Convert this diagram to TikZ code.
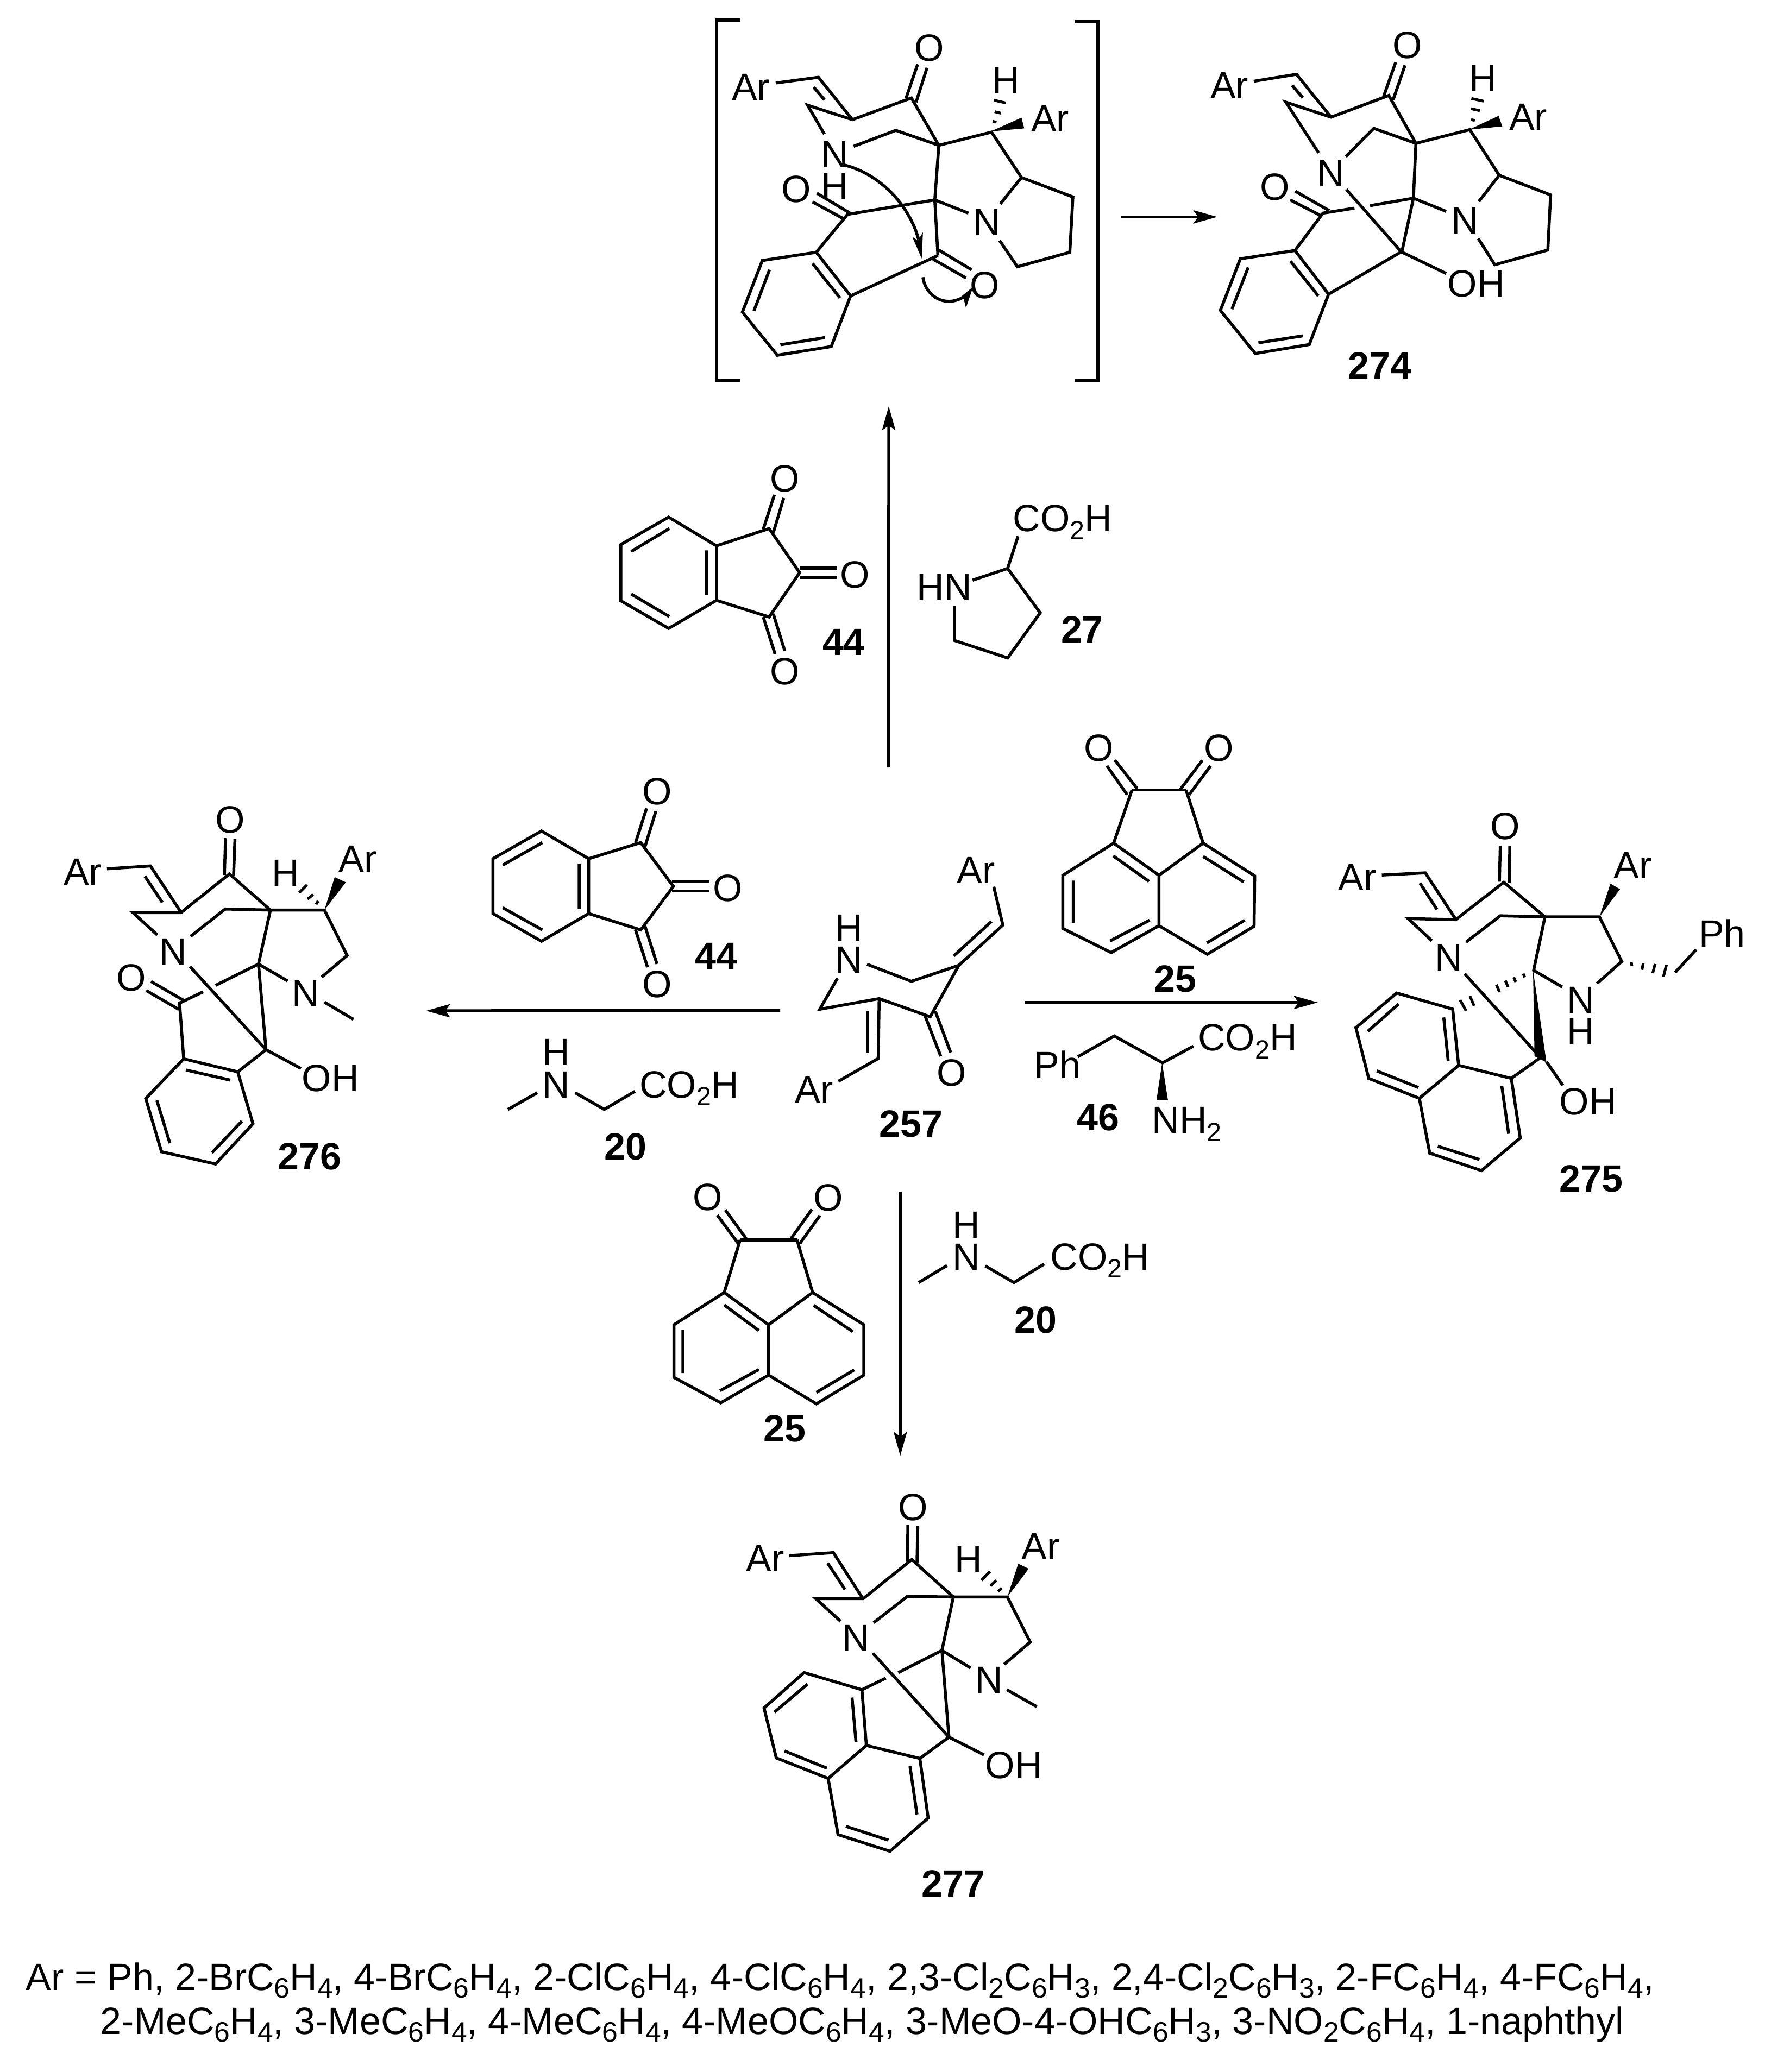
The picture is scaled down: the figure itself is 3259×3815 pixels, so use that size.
\documentclass[tikz,border=0pt]{standalone}
\usepackage{fontspec}
\setmainfont{Liberation Sans}
\usetikzlibrary{arrows.meta}
\newcommand{\sbs}[1]{\raisebox{-3.4pt}{\fontsize{11.6}{14}\selectfont #1}}
\newcommand{\fsb}[1]{\raisebox{-3.4pt}{\fontsize{12.4}{14}\selectfont #1}}
\tikzset{
  lab/.style={inner sep=0pt,anchor=base,font=\fontsize{16.8}{20}\selectfont},
  labw/.style={lab,anchor=base west},
  num/.style={lab,font=\fontsize{16.8}{20}\selectfont\bfseries},
  bd/.style={line width=1.32pt,line join=miter,draw=black},
  hs/.style={line width=1.2pt,draw=black},
  rxn/.style={line width=1.32pt,draw=black,-{Stealth[length=10.5pt,width=5.8pt,inset=2pt]}},
  brk/.style={line width=1.4pt,draw=black,line join=miter}
}
\begin{document}
\begin{tikzpicture}[x=0.24pt,y=-0.24pt]
\useasboundingbox (0,0) rectangle (3259,3815);
\fill[white] (0,0) rectangle (3259,3815);

% ---------- intermediate in brackets
\begin{scope}[shift={(1250,0)},xscale=0.574,yscale=0.459]
\draw[brk] (195,80)--(120,80)--(120,1525)--(195,1525);
\draw[brk] (1270,85)--(1343,85)--(1343,1525)--(1270,1525);
\node[lab] (iO1) at (803,245) {O};
\node[lab] (iAr1) at (230,403) {Ar};
\node[lab] (iH1) at (1048,375) {H};
\node[lab] (iAr2) at (1190,528) {Ar};
\node[lab] (iN1) at (500,672) {N};
\node[lab] (iH2) at (500,800) {H};
\node[lab] (iO2) at (375,812) {O};
\node[lab] (iN2) at (987,945) {N};
\node[lab] (iO3) at (980,1198) {O};
\draw[bd] (310,333)--(447,310)--(556,480);
\draw[bd] (432,350)--(466,400);
\draw[bd] (466,538)--(412,422)--(556,480)--(745,393)--(833,583);
\draw[bd] (728,393)--(765,258) (760,410)--(795,272);
\draw[bd] (560,587)--(695,523)--(833,583)--(1002,530)--(1098,712)--(1263,790)--(1253,1012)--(1085,1070)--(1028,965);
\draw[bd] (1098,712)--(1030,818);
\fill (1000,527)--(1098,472)--(1107,515)--cycle;
\draw[hs] (1006,487)--(1018,490) (1012,448)--(1032,454) (1010,402)--(1048,413);
\draw[bd] (833,583)--(820,802)--(928,855);
\draw[bd] (820,802)--(830,1025);
\draw[bd] (820,802)--(540,860)--(440,1012);
\draw[bd] (527,877)--(428,810) (548,855)--(442,775);
\draw[bd] (440,1012)--(267,1045)--(203,1252)--(315,1425)--(488,1390)--(550,1187)--cycle;
\draw[bd] (290,1082)--(240,1247) (325,1383)--(468,1354) (428,1057)--(516,1195);
\draw[bd] (550,1187)--(830,1025);
\draw[bd] (815,1040)--(920,1115) (833,1003)--(938,1082);
\draw[bd] (530,662) .. controls (650,700) and (740,830) .. (768,960);
\fill (778,1037)--(748,950)--(766,965)--(782,932)--cycle;
\draw[bd] (782,1112) .. controls (790,1190) and (860,1245) .. (925,1180);
\fill (943,1150)--(890,1205)--(912,1195)--(920,1235)--cycle;
\coordinate (arrAs) at (1418,870);
\end{scope}

% ---------- 274
\begin{scope}[shift={(2150,0)},xscale=0.574,yscale=0.459]
\coordinate (arrAe) at (158,870);
\node[lab] (aO1) at (767,235) {O};
\node[lab] (aAr1) at (197,395) {Ar};
\node[lab] (aH1) at (1010,367) {H};
\node[lab] (aAr2) at (1155,522) {Ar};
\node[lab] (aN1) at (522,748) {N};
\node[lab] (aO2) at (343,802) {O};
\node[lab] (aN2) at (952,937) {N};
\node[lab] (aOH) at (988,1190) {OH};
\node[num] (a274) at (680,1520) {274};
\draw[bd] (275,326)--(412,298)--(523,470);
\draw[bd] (398,342)--(432,392);
\draw[bd] (483,613)--(378,410)--(523,470)--(708,383)--(795,575);
\draw[bd] (692,385)--(730,250) (722,400)--(760,262);
\draw[bd] (570,628)--(660,515)--(795,575)--(968,520)--(1062,703)--(1227,782)--(1218,1003)--(1048,1062)--(995,957);
\draw[bd] (1062,703)--(997,808);
\fill (965,520)--(1060,465)--(1072,507)--cycle;
\draw[hs] (972,480)--(984,483) (972,436)--(1000,444) (973,395)--(1012,406);
\draw[bd] (795,575)--(787,795)--(892,848);
\draw[bd] (787,795)--(750,1010);
\draw[bd] (787,795)--(648,825) (598,835)--(497,855)--(407,1005);
\draw[bd] (490,865)--(392,802) (517,845)--(408,767);
\draw[bd] (572,760)--(748,1010)--(892,1097);
\draw[bd] (748,1010)--(515,1180);
\draw[bd] (407,1005)--(232,1038)--(168,1245)--(280,1418)--(453,1382)--(515,1180)--cycle;
\draw[bd] (257,1073)--(205,1240) (290,1375)--(433,1347) (393,1048)--(482,1187);
\end{scope}
\draw[rxn] (arrAs)--(arrAe);

% ---------- 44 + 27 (top)
\begin{scope}[shift={(1100,820)},xscale=0.638,yscale=0.383]
\coordinate (arrBs) at (840,1548);
\node[lab] (bO1) at (540,222) {O};
\node[lab] (bO2) at (742,685) {O};
\node[lab] (bO3) at (540,1150) {O};
\node[num] (b44) at (710,1010) {44};
\node[labw] (bCO) at (1197,415) {CO\sbs{2}H};
\node[labw] (bHN) at (920,745) {HN};
\node[num] (b27) at (1398,950) {27};
\draw[bd] (205,345)--(67,477)--(67,747)--(205,880)--(343,745)--(343,483)--cycle;
\draw[bd] (207,400)--(97,510) (97,715)--(207,823) (315,505)--(315,720);
\draw[bd] (343,483)--(495,400)--(583,612)--(495,825)--(343,745);
\draw[bd] (478,403)--(510,238) (507,420)--(537,253);
\draw[bd] (478,825)--(512,1003) (507,810)--(540,988);
\draw[bd] (583,590)--(690,590) (583,636)--(690,636);
\draw[bd] (1082,648)--(1183,592)--(1213,437);
\draw[bd] (1183,592)--(1277,805)--(1183,1022)--(1030,938)--(1030,772);
\end{scope}
\coordinate (arrBe) at (1636,748);
\draw[rxn] (arrBs)--(arrBe);

% ---------- 44 + 20 (left)
\begin{scope}[shift={(850,1400)},xscale=0.383,yscale=0.510]
\coordinate (arrCs) at (1530,903);
\node[lab] (cO1) at (940,160) {O};
\node[lab] (cO2) at (1278,508) {O};
\node[lab] (cO3) at (940,855) {O};
\node[num] (c44) at (1222,753) {44};
\node[lab] (cH) at (453,1100) {H};
\node[lab] (cN) at (453,1218) {N};
\node[labw] (cCO) at (852,1218) {CO\sbs{2}H};
\node[num] (c20) at (788,1442) {20};
\draw[bd] (150,355)--(383,255)--(610,355)--(610,553)--(383,653)--(150,553)--cycle;
\draw[bd] (197,378)--(387,297) (197,532)--(387,612) (564,373)--(564,535);
\draw[bd] (610,355)--(860,297)--(1017,455)--(860,612)--(610,553);
\draw[bd] (835,298)--(888,173) (880,313)--(933,183);
\draw[bd] (835,612)--(893,747) (880,597)--(938,735);
\draw[bd] (1010,438)--(1190,438) (1010,472)--(1190,472);
\draw[bd] (222,1260)--(363,1200) (545,1200)--(685,1260)--(832,1195);
\end{scope}

% ---------- 25 + 46 (right)
\begin{scope}[shift={(1850,1350)},xscale=0.383,yscale=0.510]
\coordinate (arrDs) at (97,972);
\coordinate (arrDe) at (1503,972);
\node[lab] (dO1) at (450,100) {O};
\node[lab] (dO2) at (1027,100) {O};
\node[num] (d25) at (818,935) {25};
\node[labw] (dPh) at (138,1247) {Ph};
\node[labw] (dCO) at (925,1147) {CO\sbs{2}H};
\node[labw] (dNH) at (705,1445) {NH\sbs{2}};
\node[num] (d46) at (447,1435) {46};
\draw[bd] (610,205)--(870,205);
\draw[bd] (610,205)--(522,397) (870,205)--(952,397);
\draw[bd] (587,222)--(490,118) (635,200)--(528,97);
\draw[bd] (840,205)--(948,98) (885,222)--(988,118);
\draw[bd] (522,397)--(278,513)--(278,705)--(510,792)--(740,695)--(740,513)--cycle;
\draw[bd] (740,513)--(952,397)--(1200,515)--(1197,697)--(972,798)--(740,695);
\draw[bd] (520,443)--(692,535) (328,532)--(328,685) (505,750)--(695,675) (952,445)--(1147,537) (970,757)--(1152,675);
\draw[bd] (350,1168)--(525,1093)--(757,1190)--(905,1130);
\fill (755,1190)--(728,1325)--(783,1325)--cycle;
\end{scope}
\draw[rxn] (arrDs)--(arrDe);

% ---------- 25 + 20 (bottom)
\begin{scope}[shift={(1150,2150)},xscale=0.638,yscale=0.383]
\coordinate (arrEs) at (795,115);
\coordinate (arrEe) at (795,1385);
\node[lab] (eO1) at (240,205) {O};
\node[lab] (eO2) at (587,208) {O};
\node[num] (e25) at (462,1318) {25};
\node[lab] (eH) at (985,338) {H};
\node[lab] (eN) at (985,492) {N};
\node[labw] (eCO) at (1227,492) {CO\sbs{2}H};
\node[num] (e20) at (1185,795) {20};
\draw[bd] (333,347)--(497,347);
\draw[bd] (333,347)--(287,600) (497,347)--(542,600);
\draw[bd] (330,370)--(267,228) (350,340)--(290,203);
\draw[bd] (480,340)--(540,200) (505,365)--(563,230);
\draw[bd] (287,600)--(142,755)--(142,1008)--(277,1130)--(415,997)--(415,755)--cycle;
\draw[bd] (415,755)--(542,600)--(690,755)--(690,997)--(553,1135)--(415,997);
\draw[bd] (287,660)--(387,783) (168,778)--(168,987) (275,1072)--(387,970) (545,662)--(658,788) (553,1080)--(662,972);
\draw[bd] (848,552)--(930,470) (1040,472)--(1123,552)--(1210,463);
\end{scope}
\draw[rxn] (arrEs)--(arrEe);

% ---------- 257
\begin{scope}[shift={(1450,1500)},xscale=0.3333,yscale=0.408]
\node[lab] (fAr1) at (1040,310) {Ar};
\node[lab] (fH) at (337,570) {H};
\node[lab] (fN) at (337,715) {N};
\node[lab] (fAr2) at (145,1300) {Ar};
\node[lab] (fO) at (905,1225) {O};
\node[num] (f257) at (680,1455) {257};
\draw[bd] (1138,325)--(1188,498)--(945,680);
\draw[bd] (1125,482)--(917,637);
\draw[bd] (945,680)--(683,752)--(438,675);
\draw[bd] (945,680)--(787,912)--(505,830)--(177,878)--(275,738);
\draw[bd] (505,830)--(500,1100)--(280,1203);
\draw[bd] (440,885)--(440,1077);
\draw[bd] (757,905)--(845,1090) (815,887)--(900,1073);
\end{scope}

% ---------- 275
\begin{scope}[shift={(2400,1450)},xscale=0.548,yscale=0.510]
\node[lab] (gO) at (677,187) {O};
\node[lab] (gAr1) at (180,372) {Ar};
\node[lab] (gAr2) at (1105,328) {Ar};
\node[lab] (gPh) at (1405,575) {Ph};
\node[lab] (gN1) at (487,662) {N};
\node[lab] (gN2) at (930,815) {N};
\node[lab] (gH) at (930,928) {H};
\node[lab] (gOH) at (955,1182) {OH};
\node[num] (g275) at (965,1460) {275};
\draw[bd] (262,316)--(408,308)--(510,475);
\draw[bd] (390,345)--(447,440);
\draw[bd] (430,553)--(350,473)--(510,477)--(672,342)--(810,467);
\draw[bd] (657,340)--(660,210) (690,345)--(692,210);
\draw[bd] (545,558)--(660,463)--(810,467)--(993,467)--(1068,628)--(985,707);
\fill (993,467)--(1030,347)--(1062,367)--cycle;
\draw[hs] (1100,630)--(1102,644) (1140,634)--(1136,658) (1180,637)--(1172,670) (1218,640)--(1208,683);
\draw[bd] (1247,668)--(1318,585);
\draw[bd] (810,467)--(772,660)--(868,720);
\draw[hs] (737,672)--(742,685) (705,685)--(712,702) (677,697)--(686,720) (647,712)--(657,738) (558,753)--(572,788) (525,767)--(545,806);
\fill (770,660)--(775,970)--(815,992)--cycle;
\draw[bd] (815,990)--(870,1075);
\draw[bd] (540,672)--(795,975)--(697,1050);
\draw[bd] (697,1050)--(520,1003)--(500,800)--(312,742)--(175,867)--(218,1050)--(388,1122)--(520,1003);
\draw[bd] (388,1122)--(423,1320)--(597,1383)--(727,1265)--(697,1050);
\draw[bd] (470,830)--(485,988) (215,880)--(318,782) (245,1023)--(385,1083) (665,1078)--(688,1250) (450,1295)--(590,1343);
\end{scope}

% ---------- 276
\begin{scope}[shift={(50,1450)},xscale=0.510,yscale=0.478]
\coordinate (arrCe) at (1440,860);
\node[lab] (hO1) at (733,175) {O};
\node[lab] (hAr1) at (200,375) {Ar};
\node[lab] (hH) at (932,380) {H};
\node[lab] (hAr2) at (1193,325) {Ar};
\node[lab] (hN1) at (527,682) {N};
\node[lab] (hN2) at (1005,845) {N};
\node[lab] (hO2) at (375,783) {O};
\node[lab] (hOH) at (1095,1170) {OH};
\node[num] (h276) at (1020,1472) {276};
\draw[bd] (288,313)--(445,302)--(555,480);
\draw[bd] (425,342)--(488,443);
\draw[bd] (470,568)--(382,482)--(555,482)--(730,333)--(878,472);
\draw[bd] (712,337)--(716,195) (745,340)--(750,198);
\draw[bd] (590,573)--(715,468)--(878,472)--(1073,472)--(1155,647)--(1063,730);
\fill (1073,472)--(1110,345)--(1150,365)--cycle;
\draw[hs] (1050,437)--(1043,450) (1032,412)--(1012,430) (1010,375)--(982,405);
\draw[bd] (878,472)--(835,680)--(940,745);
\draw[bd] (835,680)--(680,762) (635,787)--(550,830)--(565,1045);
\draw[bd] (430,782)--(548,855) (447,747)--(565,820);
\draw[bd] (835,680)--(862,1010);
\draw[bd] (588,690)--(862,1010)--(988,1082);
\draw[bd] (862,1010)--(760,1095);
\draw[bd] (1073,827)--(1178,893);
\draw[bd] (565,1045)--(760,1095)--(815,1295)--(680,1450)--(485,1403)--(428,1198)--cycle;
\draw[bd] (573,1088)--(733,1127) (775,1285)--(667,1407) (515,1370)--(468,1205);
\end{scope}
\draw[rxn] (arrCs)--(arrCe);

% ---------- 277
\begin{scope}[shift={(1350,2720)},xscale=0.478,yscale=0.510]
\node[lab] (kO) at (692,155) {O};
\node[lab] (kAr1) at (122,340) {Ar};
\node[lab] (kH) at (905,345) {H};
\node[lab] (kAr2) at (1183,297) {Ar};
\node[lab] (kN1) at (473,628) {N};
\node[lab] (kN2) at (985,780) {N};
\node[lab] (kOH) at (1080,1088) {OH};
\node[num] (k277) at (848,1515) {277};
\draw[bd] (215,283)--(385,272)--(500,440);
\draw[bd] (363,310)--(430,405);
\draw[bd] (413,520)--(317,438)--(500,438)--(687,297)--(847,432);
\draw[bd] (670,305)--(672,172) (707,310)--(710,175);
\draw[bd] (540,525)--(670,430)--(847,432)--(1055,432)--(1143,595)--(1043,675);
\fill (1055,432)--(1097,312)--(1137,330)--cycle;
\draw[hs] (1033,400)--(1020,412) (1012,372)--(990,392) (988,340)--(955,372);
\draw[bd] (847,432)--(803,625)--(913,688);
\draw[bd] (803,625)--(635,705) (587,725)--(495,767);
\draw[bd] (803,625)--(830,938);
\draw[bd] (537,635)--(830,938)--(965,1002);
\draw[bd] (830,938)--(718,1015);
\draw[bd] (1053,767)--(1168,828);
\draw[bd] (718,1015)--(512,968)--(495,767)--(272,705)--(118,833)--(165,1013)--(365,1087)--(512,968);
\draw[bd] (365,1087)--(403,1290)--(603,1350)--(750,1230)--(718,1015);
\draw[bd] (457,795)--(472,955) (285,747)--(158,848) (197,988)--(360,1050) (680,1043)--(707,1217) (433,1260)--(597,1310);
\end{scope}

% ---------- footer
\node[labw] (foot1) at (47,3664) {Ar = Ph, 2-BrC\fsb{6}H\fsb{4}, 4-BrC\fsb{6}H\fsb{4}, 2-ClC\fsb{6}H\fsb{4}, 4-ClC\fsb{6}H\fsb{4}, 2,3-Cl\fsb{2}C\fsb{6}H\fsb{3}, 2,4-Cl\fsb{2}C\fsb{6}H\fsb{3}, 2-FC\fsb{6}H\fsb{4}, 4-FC\fsb{6}H\fsb{4},};
\node[labw] (foot2) at (184,3745) {2-MeC\fsb{6}H\fsb{4}, 3-MeC\fsb{6}H\fsb{4}, 4-MeC\fsb{6}H\fsb{4}, 4-MeOC\fsb{6}H\fsb{4}, 3-MeO-4-OHC\fsb{6}H\fsb{3}, 3-NO\fsb{2}C\fsb{6}H\fsb{4}, 1-naphthyl};
\end{tikzpicture}
\end{document}
